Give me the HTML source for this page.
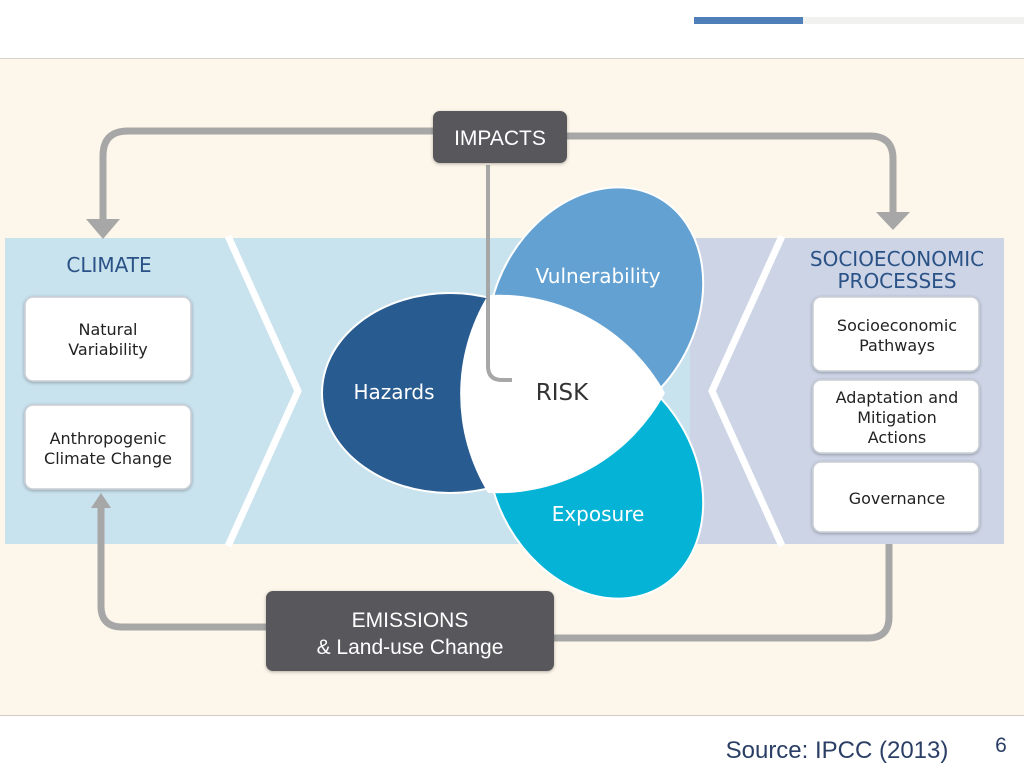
<!DOCTYPE html>
<html><head><style>
body{margin:0;width:1024px;height:768px;overflow:hidden;background:#fff;font-family:"DejaVu Sans","Liberation Sans",sans-serif}
</style></head><body>
<svg width="1024" height="768" viewBox="0 0 1024 768" xmlns="http://www.w3.org/2000/svg" style="position:absolute;left:0;top:0">
<defs>
<filter id="sh" x="-10%" y="-10%" width="120%" height="130%"><feDropShadow dx="0" dy="1" stdDeviation="1.5" flood-color="#000" flood-opacity="0.3"/></filter>
</defs>
<rect x="694" y="17" width="109" height="7" fill="#4f7fb8"/>
<rect x="803" y="17" width="221" height="7" fill="#f1f1ef"/>
<rect x="0" y="58" width="1024" height="658" fill="#fdf6ea"/>
<line x1="0" y1="58.5" x2="1024" y2="58.5" stroke="#d8d4cc"/>
<line x1="0" y1="715.5" x2="1024" y2="715.5" stroke="#d0ccc4"/>
<rect x="5" y="238" width="690" height="306" fill="#c8e2ee"/>
<rect x="690" y="238" width="314" height="306" fill="#ccd4e6"/>
<polyline points="228,236 298,391 228,546" fill="none" stroke="#fff" stroke-width="7"/>
<polyline points="782,236 712,391 782,546" fill="none" stroke="#fff" stroke-width="7"/>
<g fill="none" stroke="#a7a7a7" stroke-width="7">
<path d="M433,131 H128 Q103,131 103,156 V220"/>
<path d="M567,136 H870 Q893,136 893,159 V214"/>
<path d="M266,627 H122 Q101,627 101,606 V505"/>
<path d="M554,638 H868 Q889,638 889,617 V544"/>
</g>
<polygon points="86,219 120,219 103,239" fill="#a7a7a7"/>
<polygon points="876,212 910,212 893,230" fill="#a7a7a7"/>
<polygon points="91,508 111,508 101,493" fill="#a7a7a7"/>
<g stroke="#fff" stroke-width="2">
<ellipse cx="450" cy="393" rx="128" ry="100" fill="#285b8f"/>
<ellipse cx="450" cy="393" rx="128" ry="100" fill="#62a1d2" transform="rotate(120 547 393)"/>
<ellipse cx="450" cy="393" rx="128" ry="100" fill="#05b3d6" transform="rotate(240 547 393)"/>
</g>
<path d="M488,295 A190,190 0 0 1 665,393 A190,190 0 0 1 488,493 A190,190 0 0 1 488,295 Z" fill="#fff"/>
<path d="M488,165 V366 Q488,380 502,380 H512" fill="none" stroke="#a7a7a7" stroke-width="4"/>
<rect x="433" y="111" width="134" height="52" rx="7" fill="#58595b" filter="url(#sh)"/>
<rect x="266" y="591" width="288" height="80" rx="7" fill="#58595b" filter="url(#sh)"/>
<g fill="#fff" stroke="#c9ced4" stroke-width="1.5" filter="url(#sh)">
<rect x="25" y="297" width="166" height="84" rx="8"/>
<rect x="25" y="405" width="166" height="84" rx="8"/>
<rect x="813" y="297" width="166" height="74" rx="8"/>
<rect x="813" y="380" width="166" height="73" rx="8"/>
<rect x="813" y="462" width="166" height="70" rx="8"/>
</g>
<g font-family="Liberation Sans, sans-serif" text-anchor="middle">
<text x="500" y="145" font-size="21" fill="#fff">IMPACTS</text>
<text x="410" y="627" font-size="21" fill="#fff">EMISSIONS</text>
<text x="410" y="654" font-size="21" fill="#fff">&amp; Land-use Change</text>
</g>
<g font-family="DejaVu Sans, sans-serif" text-anchor="middle">
<text x="109" y="272" font-size="20" fill="#2a5286">CLIMATE</text>
<text x="897" y="266" font-size="20" fill="#2a5286">SOCIOECONOMIC</text>
<text x="897" y="288" font-size="20" fill="#2a5286">PROCESSES</text>
<g font-size="16" fill="#222">
<text x="108" y="335">Natural</text>
<text x="108" y="355">Variability</text>
<text x="108" y="444">Anthropogenic</text>
<text x="108" y="464">Climate Change</text>
<text x="897" y="331">Socioeconomic</text>
<text x="897" y="351">Pathways</text>
<text x="897" y="403">Adaptation and</text>
<text x="897" y="423">Mitigation</text>
<text x="897" y="443">Actions</text>
<text x="897" y="504">Governance</text>
</g>
<text x="394" y="399" font-size="20" fill="#fff">Hazards</text>
<text x="598" y="283" font-size="20" fill="#fff">Vulnerability</text>
<text x="598" y="521" font-size="20" fill="#fff">Exposure</text>
<text x="562" y="400" font-size="23" fill="#333">RISK</text>
</g>
<text x="837" y="758" font-family="Liberation Sans, sans-serif" font-size="24" fill="#2b3f66" text-anchor="middle">Source: IPCC (2013)</text>
<text x="1001" y="752" font-family="Liberation Sans, sans-serif" font-size="21" fill="#2b3f66" text-anchor="middle">6</text>
</svg>
</body></html>
